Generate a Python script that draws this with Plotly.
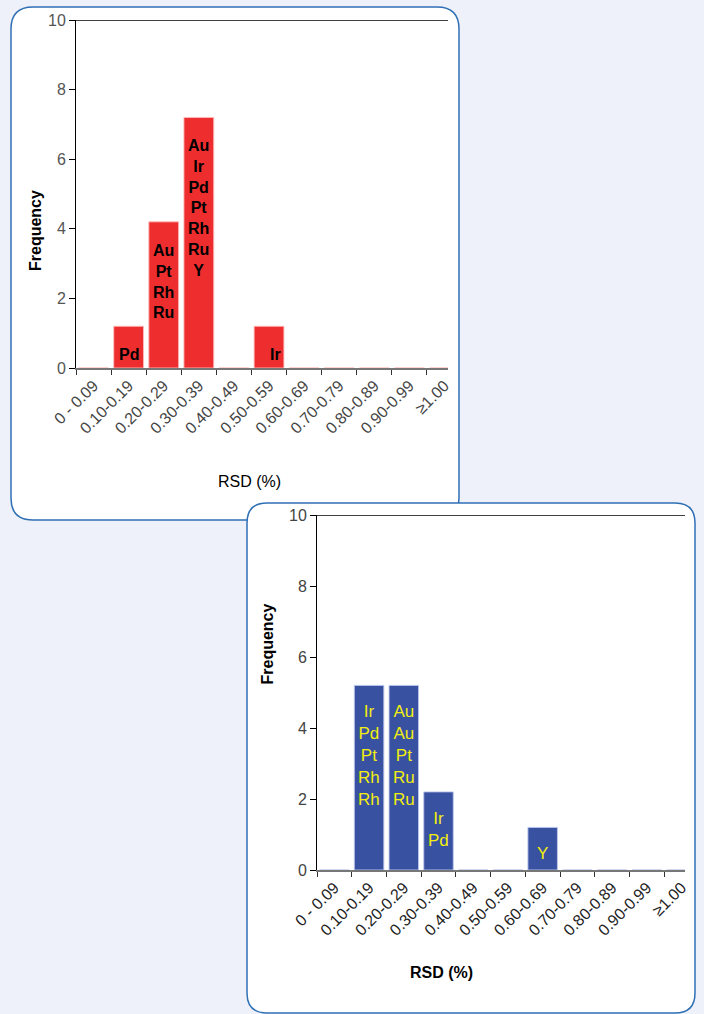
import plotly.graph_objects as go

categories = ["0 - 0.09", "0.10-0.19", "0.20-0.29", "0.30-0.39", "0.40-0.49",
              "0.50-0.59", "0.60-0.69", "0.70-0.79", "0.80-0.89", "0.90-0.99", "≥1.00"]
top_values = [0, 1.2, 4.2, 7.2, 0, 1.2, 0, 0, 0, 0, 0]
bottom_values = [0, 5.2, 5.2, 2.2, 0, 0, 1.2, 0, 0, 0, 0]
top_labels = [[], ["Pd"], ["Au", "Pt", "Rh", "Ru"], ["Au", "Ir", "Pd", "Pt", "Rh", "Ru", "Y"],
              [], ["Ir"], [], [], [], [], []]
bottom_labels = [[], ["Ir", "Pd", "Pt", "Rh", "Rh"], ["Au", "Au", "Pt", "Ru", "Ru"], ["Ir", "Pd"],
                 [], [], ["Y"], [], [], [], []]
y_ticks = [0, 2, 4, 6, 8, 10]

W, H = 704, 1014
FONT = "Liberation Sans, Arial, sans-serif"
PAGE_BG = "#eef1f9"


def px(x):
    return x / W


def py(y):
    return 1 - y / H


def rounded_rect(x0, y0, x1, y1, r):
    rx, ry = r / W, r / H
    X0, X1 = px(x0), px(x1)
    Y0, Y1 = py(y0), py(y1)  # Y0 top, Y1 bottom
    return (f"M {X0+rx},{Y0} L {X1-rx},{Y0} Q {X1},{Y0} {X1},{Y0-ry} "
            f"L {X1},{Y1+ry} Q {X1},{Y1} {X1-rx},{Y1} "
            f"L {X0+rx},{Y1} Q {X0},{Y1} {X0},{Y1+ry} "
            f"L {X0},{Y0-ry} Q {X0},{Y0} {X0+rx},{Y0} Z")


fig = go.Figure()

fig.add_trace(go.Bar(x=categories, y=top_values, xaxis="x", yaxis="y",
                     marker=dict(color="#ee2e2e", line=dict(color="rgba(255,190,190,0.9)", width=1)),
                     hoverinfo="x+y", showlegend=False))
fig.add_trace(go.Bar(x=categories, y=bottom_values, xaxis="x2", yaxis="y2",
                     marker=dict(color="#3851a0", line=dict(color="rgba(190,200,240,0.9)", width=1)),
                     hoverinfo="x+y", showlegend=False))

annotations = []
for cat, val, lab in zip(categories, top_values, top_labels):
    if lab:
        annotations.append(dict(x=cat, y=val, xref="x", yref="y", text="<br>".join(lab),
                                showarrow=False, yanchor="top", yshift=-18,
                                xshift=6 if len(lab) == 1 and cat == "0.50-0.59" else 0,
                                font=dict(family=FONT, size=16, color="black", weight="bold")))
for cat, val, lab in zip(categories, bottom_values, bottom_labels):
    if lab:
        annotations.append(dict(x=cat, y=val, xref="x2", yref="y2", text="<br>".join(lab),
                                showarrow=False, yanchor="top", yshift=-15,
                                font=dict(family=FONT, size=17, color="#f2ee10")))

# axis titles
annotations += [
    dict(x=px(25), y=py(188), xref="paper", yref="paper", text="<b>Frequency</b>", textangle=-90,
         showarrow=False, font=dict(family=FONT, size=16, color="black")),
    dict(x=px(249), y=py(481), xref="paper", yref="paper", text="RSD (%)",
         showarrow=False, font=dict(family=FONT, size=16, color="black")),
    dict(x=px(267), y=py(687), xref="paper", yref="paper", text="<b>Frequency</b>", textangle=-90,
         showarrow=False, font=dict(family=FONT, size=16, color="black")),
    dict(x=px(475), y=py(983), xref="paper", yref="paper", text="<b>RSD (%)</b>",
         showarrow=False, font=dict(family=FONT, size=16, color="black")),
]

shapes = [
    dict(type="path", path=rounded_rect(11, 7, 459, 520, 22), xref="paper", yref="paper",
         fillcolor="white", line=dict(color="#2f6fb5", width=1.5), layer="below"),
    dict(type="path", path=rounded_rect(247, 503, 695, 1013, 20), xref="paper", yref="paper",
         fillcolor="white", line=dict(color="#2f6fb5", width=1.5), layer="below"),
    dict(type="line", xref="x domain", yref="y", x0=0, x1=1, y0=10, y1=10,
         line=dict(color="black", width=1.5)),
    dict(type="line", xref="x2 domain", yref="y2", x0=0, x1=1, y0=10, y1=10,
         line=dict(color="black", width=1.5)),
]

xaxis_common = dict(type="category", range=[-0.5, 10.1], tickangle=-45, tickson="boundaries",
                    ticks="outside", ticklen=5, tickcolor="#333", showline=True, automargin=False,
                    linecolor="#777", linewidth=2, showgrid=False, zeroline=False, fixedrange=True)
yaxis_common = dict(range=[0, 10], tickvals=y_ticks, ticks="outside", ticklen=6, tickcolor="black",
                    showline=True, linecolor="black", linewidth=1, showgrid=False, zeroline=False,
                    automargin=False, fixedrange=True)

fig.update_layout(
    template="none",
    width=W, height=H,
    autosize=False,
    margin=dict(l=0, r=0, t=0, b=0, pad=0),
    paper_bgcolor=PAGE_BG,
    plot_bgcolor="rgba(0,0,0,0)",
    bargap=0.15,
    showlegend=False,
    xaxis=dict(domain=[px(76), px(448)], anchor="y",
               tickfont=dict(family=FONT, size=16, color="#444"), **xaxis_common),
    yaxis=dict(domain=[py(368), py(20)], anchor="x",
               tickfont=dict(family=FONT, size=16, color="#555"), **yaxis_common),
    xaxis2=dict(domain=[px(317), px(685)], anchor="y2",
                tickfont=dict(family=FONT, size=16, color="#222"), **xaxis_common),
    yaxis2=dict(domain=[py(870), py(515)], anchor="x2",
                tickfont=dict(family=FONT, size=16, color="#444"), **yaxis_common),
    annotations=annotations,
    shapes=shapes,
)

fig.write_html(
    "out.html",
    config={"displayModeBar": False},
    post_script=("document.body.style.margin='0';document.body.style.padding='0';"
                 "document.body.style.overflow='hidden';"
                 f"document.body.style.background='{PAGE_BG}';"),
)
